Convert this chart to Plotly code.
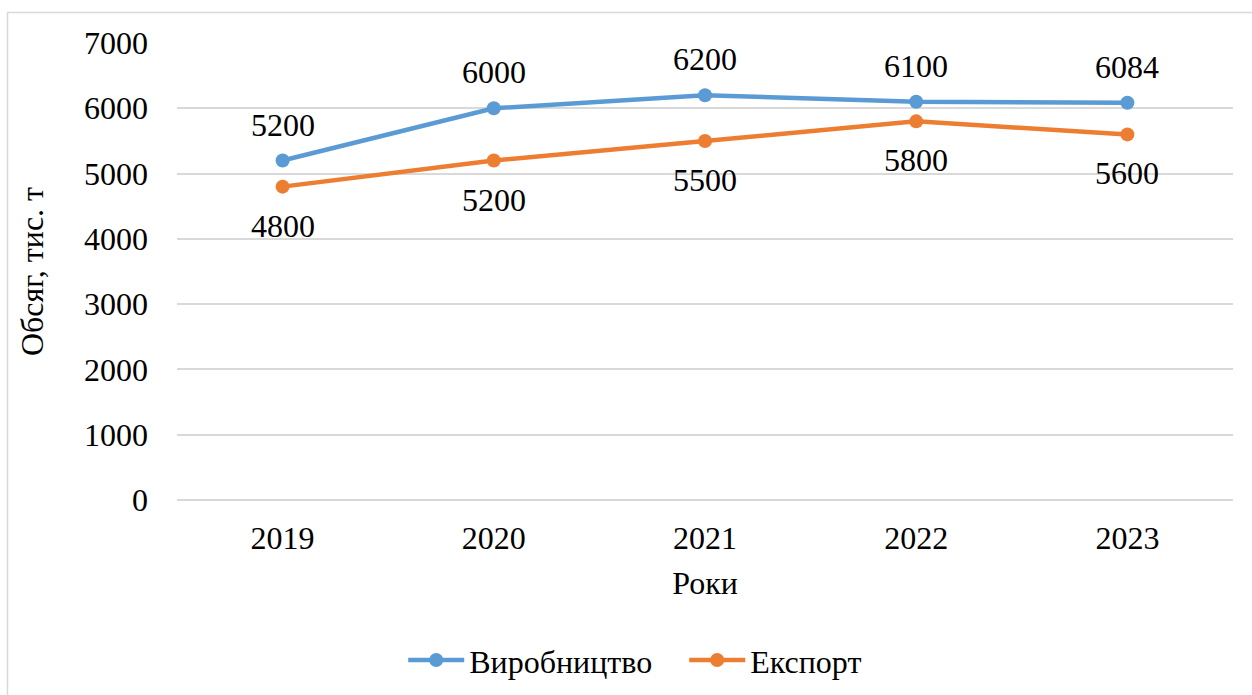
import plotly.graph_objects as go

years = ["2019", "2020", "2021", "2022", "2023"]
production = [5200, 6000, 6200, 6100, 6084]
export = [4800, 5200, 5500, 5800, 5600]

series_names = ["Виробництво", "Експорт"]
series_colors = ["#5B9BD5", "#ED7D31"]

FONT = "Liberation Serif"
FS = 32

fig = go.Figure()
for name, vals, color in zip(series_names, [production, export], series_colors):
    fig.add_trace(go.Scatter(
        x=years, y=vals, name=name, mode="lines+markers",
        line=dict(color=color, width=4.5),
        marker=dict(color=color, size=14),
    ))

# value labels: production above its points, export below
annotations = []
for vals, shift in [(production, 36), (export, -39)]:
    for i, v in enumerate(vals):
        annotations.append(dict(
            x=i, y=v, xref="x", yref="y", text=str(v), showarrow=False,
            yshift=shift, font=dict(family=FONT, size=FS, color="black"),
        ))

fig.update_layout(
    width=1252, height=695,
    margin=dict(l=177, r=19, t=43, b=195),
    paper_bgcolor="white", plot_bgcolor="white",
    font=dict(family=FONT, size=FS, color="black"),
    showlegend=True,
    legend=dict(
        orientation="h", xref="container", yref="container",
        x=0.5465, y=0.05, xanchor="center", yanchor="middle",
        font=dict(family=FONT, size=FS, color="black"),
        itemwidth=56, entrywidth=210,
    ),
    annotations=annotations,
    shapes=[dict(
        type="rect", xref="paper", yref="paper",
        x0=-0.1605, x1=1.1, y0=-0.5, y1=1.0667,
        line=dict(color="#D9D9D9", width=1.5), fillcolor="rgba(0,0,0,0)",
        layer="below",
    )],
)

fig.update_xaxes(
    type="category", range=[-0.5, len(years) - 0.5],
    showgrid=False, showline=False, zeroline=False,
    ticks="", ticklabelstandoff=16,
    title=dict(text="Роки", standoff=16, font=dict(family=FONT, size=FS)),
)
fig.update_yaxes(
    range=[0, 7000], dtick=1000, showgrid=True, gridcolor="#D9D9D9",
    gridwidth=1.5, zeroline=True, zerolinecolor="#D9D9D9", zerolinewidth=1.5,
    showline=False, ticks="", ticklabelstandoff=28,
    title=dict(text="Обсяг, тис. т", standoff=30, font=dict(family=FONT, size=FS)),
)

fig.write_html("out.html")
